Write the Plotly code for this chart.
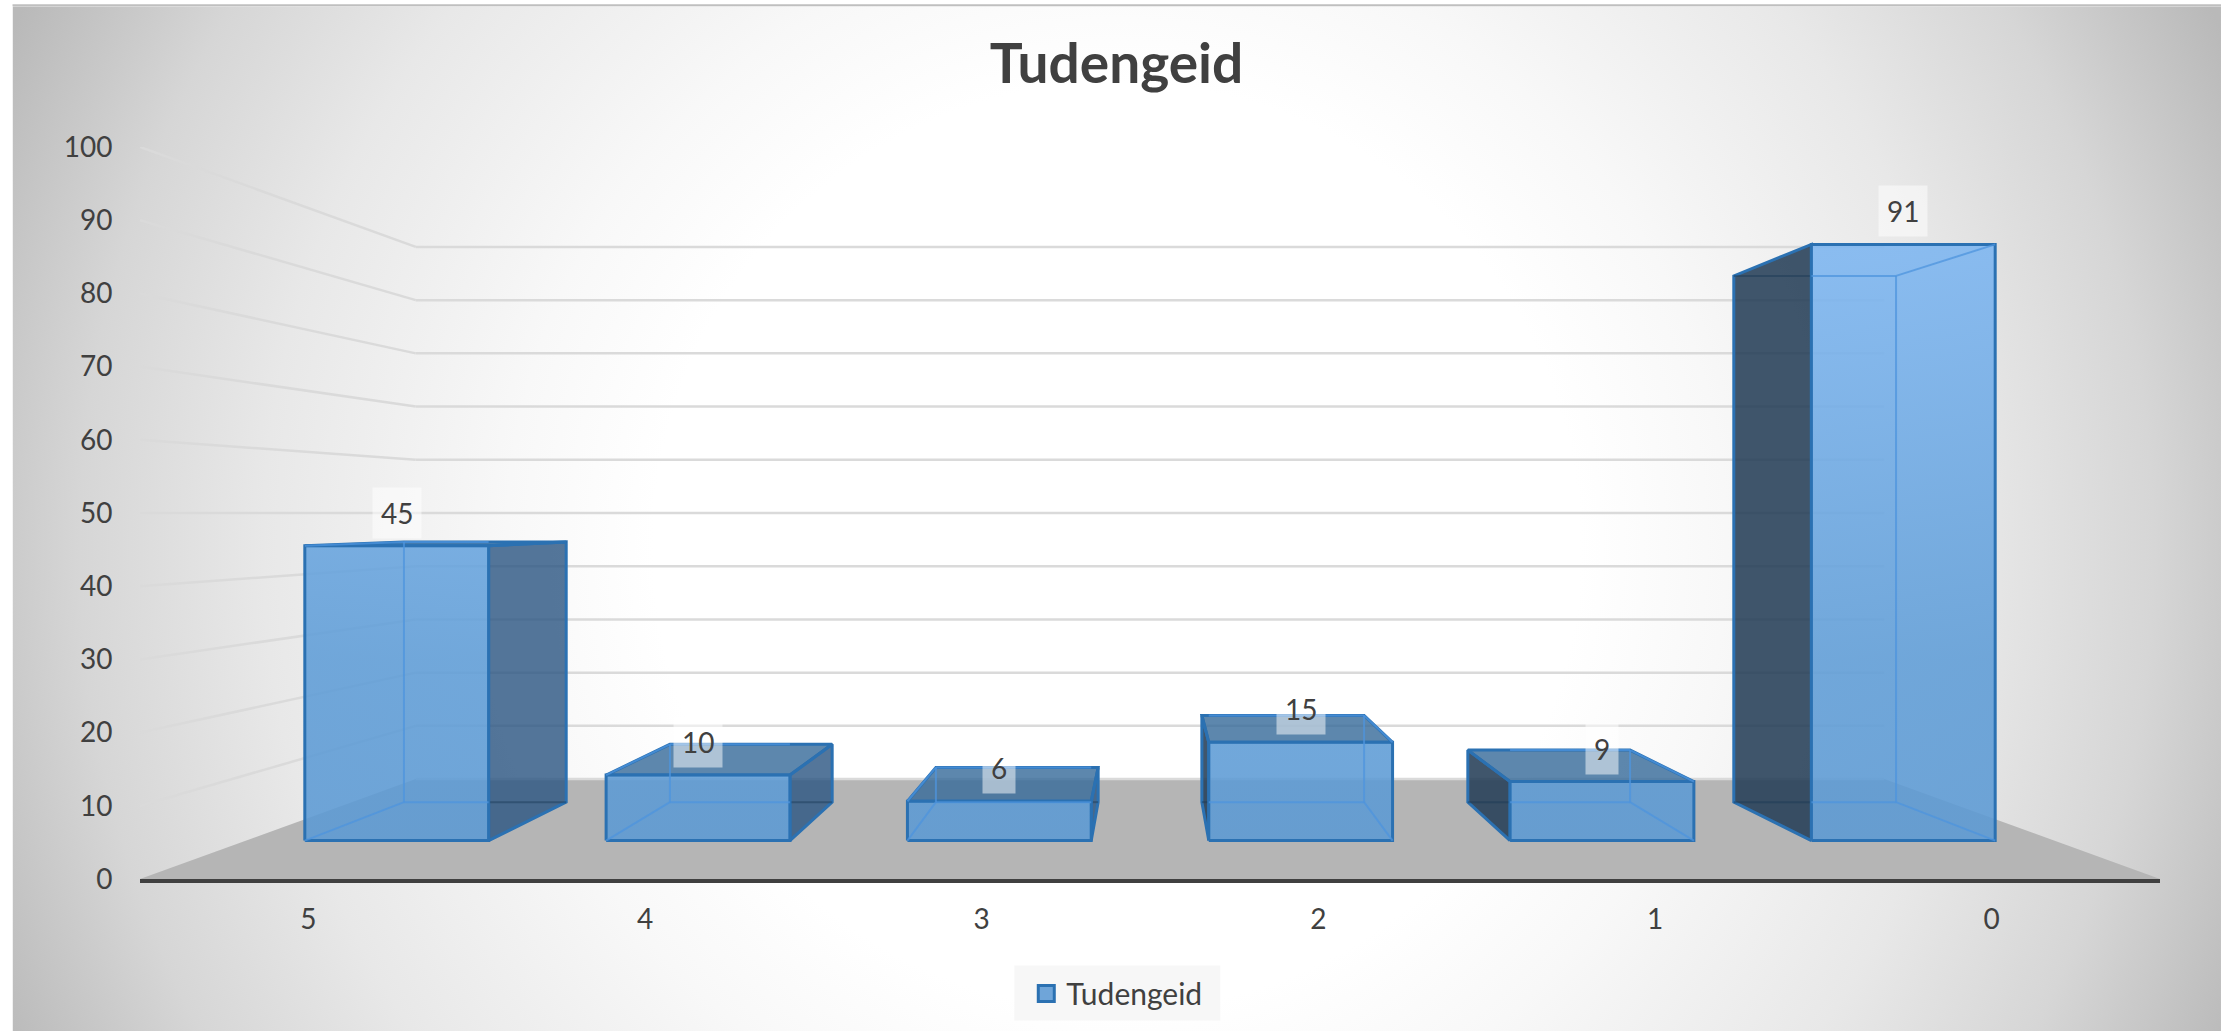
import base64
import plotly.graph_objects as go

# ---- data ----
categories = ["5", "4", "3", "2", "1", "0"]
values = [45, 10, 6, 15, 9, 91]
series_name = "Tudengeid"
chart_title = "Tudengeid"
y_ticks = [0, 10, 20, 30, 40, 50, 60, 70, 80, 90, 100]

# ---- page geometry (pixels) ----
W, H = 2233, 1031
L, R, T, B = 139.5, W - 2160, 146.7, H - 878.6
PW, PH = W - L - R, H - T - B

def px(x):
    return (x - L) / PW

def py(y):
    return (H - B - y) / PH

# ---- perspective: depth t = 1 at the axis plane, smaller further back ----
XC, YC = 2.5, 50.0
T_FRONT, T_BACK, T_WALL = 0.895, 0.79, 0.727
HALF = 0.305

def pr(x, v, t):
    return XC + (x - XC) * t, YC + (v - YC) * t

def poly(points):
    pts = [pr(*p) for p in points]
    pts.append(pts[0])
    return [p[0] for p in pts], [p[1] for p in pts]

def segs(pairs):
    xs, ys = [], []
    for a, b in pairs:
        pa, pb = pr(*a), pr(*b)
        xs += [pa[0], pb[0], None]
        ys += [pa[1], pb[1], None]
    return xs, ys

EDGE = "#2b71b2"
INNER = "rgba(78,148,222,0.75)"
FONT = "Lato"
TXT = "#404040"

fig = go.Figure()

def add(x, y, **kw):
    fig.add_trace(go.Scatter(x=x, y=y, mode="lines", showlegend=False,
                             hoverinfo="skip", cliponaxis=False, **kw))

# floor
fx, fy = poly([(-0.5, 0, 1), (5.5, 0, 1), (5.5, 0, T_WALL), (-0.5, 0, T_WALL)])
add(fx, fy, fill="toself", fillcolor="#b5b5b5", line=dict(width=0))

# gridlines: left wall and back wall
wall = []
for v in y_ticks:
    if v > 0:
        wall.append(((-0.5, v, 1), (-0.5, v, T_WALL)))
    wall.append(((-0.5, v, T_WALL), (5.5, v, T_WALL)))
gx, gy = segs(wall)
add(gx, gy, line=dict(color="#dadada", width=2.5))

# bars
for i, v in enumerate(values):
    xl, xr = i - HALF, i + HALF
    # side face and the edge on the opposite side of the bar
    if i < XC:
        sx, ox, col = xr, xl, "rgba(44,86,130,0.81)"
    else:
        sx, ox, col = xl, xr, "rgba(36,61,86,0.87)"
    # the part of the back edges that lies behind the side face
    clip = XC + (pr(sx, 0, T_FRONT)[0] - XC) / T_BACK
    dx, dy = segs([((sx, 0, T_BACK), (clip, 0, T_BACK)), ((sx, v, T_BACK), (clip, v, T_BACK))])
    ax, ay = poly([(sx, 0, T_FRONT), (sx, v, T_FRONT), (sx, v, T_BACK), (sx, 0, T_BACK)])
    add(ax, ay, fill="toself", fillcolor=col, line=dict(color=EDGE, width=3))
    add(dx, dy, line=dict(color="rgba(25,55,85,0.45)", width=2))
    # top face, seen only when below the horizon
    if v < YC:
        ax, ay = poly([(xl, v, T_FRONT), (xr, v, T_FRONT), (xr, v, T_BACK), (xl, v, T_BACK)])
        add(ax, ay, fill="toself", fillcolor="rgba(55,107,154,0.81)",
            line=dict(color=EDGE, width=3))
    # front face
    ax, ay = poly([(xl, 0, T_FRONT), (xr, 0, T_FRONT), (xr, v, T_FRONT), (xl, v, T_FRONT)])
    add(ax, ay, fill="toself",
        fillgradient=dict(type="vertical", start=0, stop=100,
                          colorscale=[[0, "rgba(91,153,211,0.88)"],
                                      [0.3, "rgba(95,157,215,0.88)"],
                                      [0.85, "rgba(124,181,240,0.88)"],
                                      [1, "rgba(126,183,242,0.88)"]]),
        line=dict(color=EDGE, width=3))
    # edges seen through the faces
    hx, hy = segs([
        ((ox, 0, T_FRONT), (ox, 0, T_BACK)), ((ox, v, T_FRONT), (ox, v, T_BACK)),
        ((ox, 0, T_BACK), (clip, 0, T_BACK)), ((ox, v, T_BACK), (clip, v, T_BACK)),
        ((ox, 0, T_BACK), (ox, v, T_BACK)),
    ])
    add(hx, hy, line=dict(color=INNER, width=2))

# legend entry
fig.add_trace(go.Scatter(x=[None], y=[None], mode="markers", name=series_name,
                         marker=dict(symbol="square", size=16, color="#6fa5d9",
                                     line=dict(color=EDGE, width=3))))

# data labels
annotations = []
for i, v in enumerate(values):
    lx, ly = pr(i, v, T_FRONT)
    annotations.append(dict(x=lx, y=ly, text=str(v), showarrow=False, yshift=33,
                            font=dict(family=FONT, size=28, color=TXT),
                            bgcolor="rgba(255,255,255,0.5)", borderpad=8))

# background gradient
BX0, BY0, BX1, BY1 = 12, 6, 2221, 1031
BW, BH = BX1 - BX0, BY1 - BY0
stops = [(0, "#ffffff"), (0.38, "#ffffff"), (0.5, "#f8f8f8"), (0.7, "#e8e8e8"),
         (0.85, "#d6d6d6"), (1, "#b9b9b9")]
stop_svg = "".join(f'<stop offset="{o}" stop-color="{c}"/>' for o, c in stops)
svg = (f'<svg xmlns="http://www.w3.org/2000/svg" width="{BW}" height="{BH}" viewBox="0 0 {BW} {BH}">'
       f'<defs><radialGradient id="g" gradientUnits="userSpaceOnUse" cx="{BW/2}" cy="540" r="1220">'
       f'{stop_svg}</radialGradient></defs>'
       f'<rect width="{BW}" height="{BH}" fill="url(#g)"/></svg>')
bg = "data:image/svg+xml;base64," + base64.b64encode(svg.encode()).decode()

fig.update_layout(
    width=W, height=H, autosize=False,
    margin=dict(l=L, r=R, t=T, b=B, pad=0, autoexpand=False),
    paper_bgcolor="white", plot_bgcolor="rgba(0,0,0,0)",
    font=dict(family=FONT, color=TXT),
    title=dict(text=f"<b>{chart_title}</b>", x=0.5, xref="container", xanchor="center",
               y=1 - 64 / H, yanchor="middle", yref="container",
               font=dict(family=FONT, size=55, color=TXT)),
    xaxis=dict(range=[-0.5, 5.5], tickmode="array", tickvals=list(range(len(categories))),
               ticktext=categories, showgrid=False, zeroline=False,
               showline=True, linecolor=TXT, linewidth=4,
               ticks="outside", ticklen=12, tickcolor="rgba(0,0,0,0)",
               tickfont=dict(family=FONT, size=28, color=TXT)),
    yaxis=dict(range=[0, 100], tickmode="array", tickvals=y_ticks,
               showgrid=False, zeroline=False, showline=False,
               ticks="outside", ticklen=21, tickcolor="rgba(0,0,0,0)",
               tickfont=dict(family=FONT, size=28, color=TXT)),
    legend=dict(x=px(1026), y=py(993), xanchor="left", yanchor="middle",
                bgcolor="rgba(0,0,0,0)", font=dict(family=FONT, size=30, color=TXT),
                itemwidth=30, borderwidth=0),
    annotations=annotations,
    images=[dict(source=bg, xref="paper", yref="paper", x=px(BX0), y=py(BY0),
                 sizex=BW / PW, sizey=BH / PH, xanchor="left", yanchor="top",
                 sizing="stretch", layer="below")],
    shapes=[dict(type="line", xref="paper", yref="paper", x0=px(BX0), x1=px(BX1),
                 y0=py(5), y1=py(5), line=dict(color="#bfbfbf", width=2)),
            dict(type="rect", xref="paper", yref="paper", layer="below", x0=px(1014), x1=px(1220),
                 y0=py(965), y1=py(1020), fillcolor="rgba(242,242,242,0.6)", line=dict(width=0))],
)

fig.write_html("out.html", config=dict(displayModeBar=False),
               post_script="document.body.style.margin='0';document.body.style.overflow='hidden';")
